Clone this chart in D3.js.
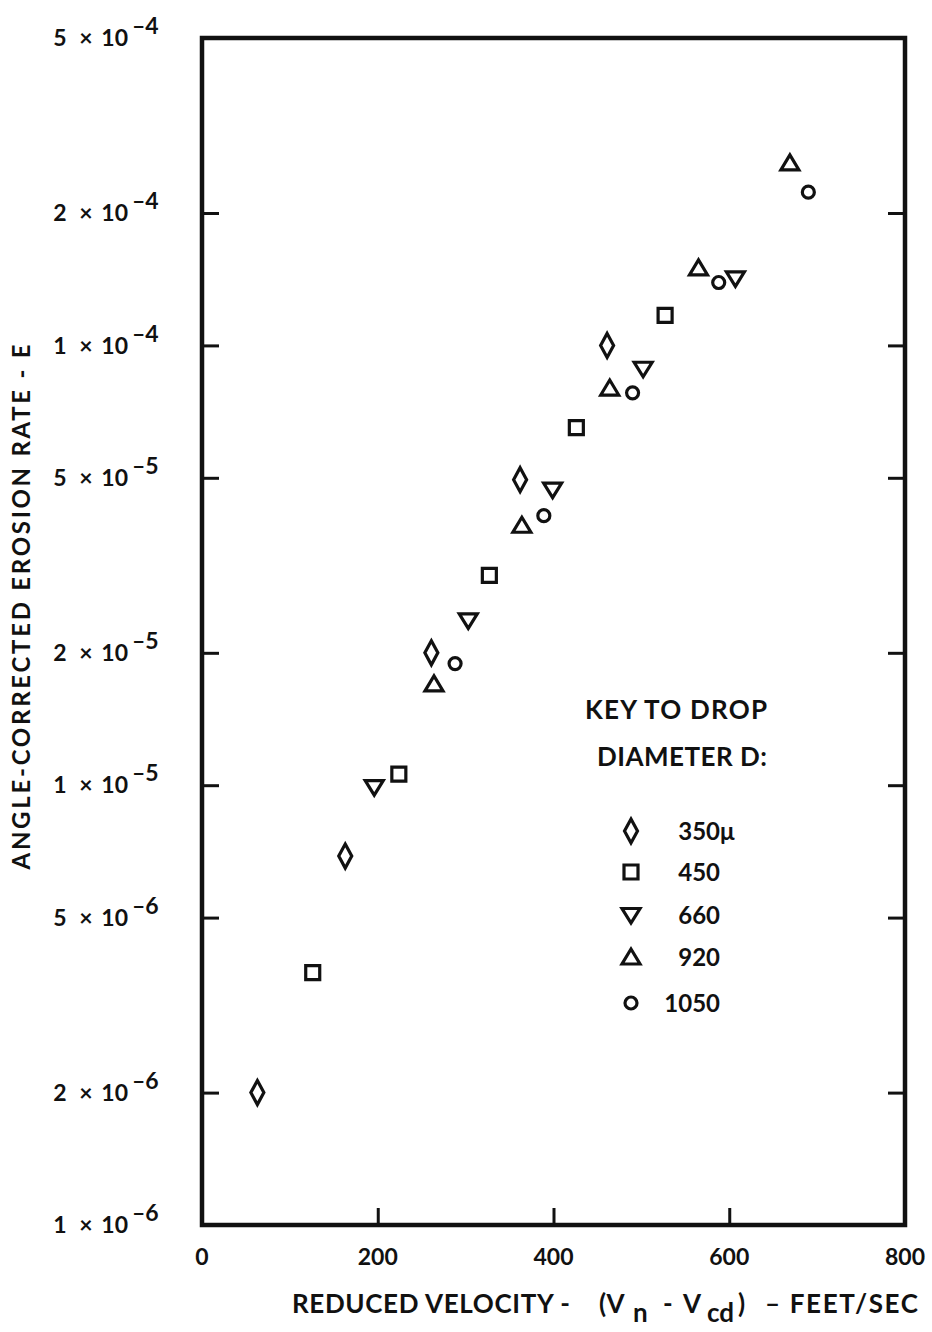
<!DOCTYPE html>
<html><head><meta charset="utf-8">
<script src="https://cdn.jsdelivr.net/npm/d3@7"></script>
<style>
  body { margin: 0; background: #fff; }
  text { font-family: "Lato", "DejaVu Sans", sans-serif; fill: #111; font-weight: 700; }
  .axis .domain { stroke: none; }
  .axis line { stroke: #111; stroke-width: 3px; }
</style>
</head><body>
<svg id="chart" width="932" height="1332"></svg>
<script>
  // ---- data
  const diameters = ["350", "450", "660", "920", "1050"];
  const shapeNames = ["diamond", "square", "triDown", "triUp", "circle"];

  const vel350 = [63, 163, 261, 362, 461];
  const rate350 = [2.0e-6, 6.9e-6, 2.0e-5, 4.95e-5, 1.0e-4];
  const vel450 = [126, 224, 327, 426, 527];
  const rate450 = [3.75e-6, 1.06e-5, 3.0e-5, 6.5e-5, 1.17e-4];
  const vel660 = [196, 303, 399, 502, 607];
  const rate660 = [9.9e-6, 2.37e-5, 4.7e-5, 8.85e-5, 1.42e-4];
  const vel920 = [264, 364, 464, 565, 669];
  const rate920 = [1.7e-5, 3.9e-5, 8.0e-5, 1.5e-4, 2.6e-4];
  const vel1050 = [288, 389, 490, 588, 690];
  const rate1050 = [1.89e-5, 4.1e-5, 7.8e-5, 1.39e-4, 2.23e-4];

  const xTicks = [0, 200, 400, 600, 800];
  const yTicks = [1e-6, 2e-6, 5e-6, 1e-5, 2e-5, 5e-5, 1e-4, 2e-4, 5e-4];

  const series = [
    {vel: vel350, rate: rate350},
    {vel: vel450, rate: rate450},
    {vel: vel660, rate: rate660},
    {vel: vel920, rate: rate920},
    {vel: vel1050, rate: rate1050}
  ];

  const svg = d3.select("svg#chart");

  const x = d3.scaleLinear().domain([0, 800]).range([202, 905]);
  const y = d3.scaleLog().domain([1e-6, 5e-4]).range([1225, 38]);

  // marker shapes, centred on 0,0
  const shapePath = {
    diamond: "M0,-12 L6.5,0 L0,12 L-6.5,0 Z",
    square: "M-7,-7 L7,-7 L7,7 L-7,7 Z",
    triDown: "M-9,-6.5 L9,-6.5 L0,8 Z",
    triUp: "M-9,7 L9,7 L0,-8 Z",
    circle: "M6,0 A6,6 0 1,1 -6,0 A6,6 0 1,1 6,0 Z"
  };

  // ---- tick marks (inward) on left, right, bottom
  const inner = yTicks.slice(1, -1);
  svg.append("g").attr("class", "axis")
     .attr("transform", "translate(" + x(0) + ",0)")
     .call(d3.axisLeft(y).tickValues(inner).tickSize(-17).tickFormat(""));
  svg.append("g").attr("class", "axis")
     .attr("transform", "translate(" + x(800) + ",0)")
     .call(d3.axisRight(y).tickValues(inner).tickSize(-17).tickFormat(""));
  svg.append("g").attr("class", "axis")
     .attr("transform", "translate(0," + y(1e-6) + ")")
     .call(d3.axisBottom(x).tickValues(xTicks.slice(1, -1)).tickSize(-17).tickFormat(""));

  // frame
  svg.append("rect")
     .attr("x", x(0)).attr("y", y(5e-4))
     .attr("width", x(800) - x(0)).attr("height", y(1e-6) - y(5e-4))
     .attr("fill", "none").attr("stroke", "#111").attr("stroke-width", 4.5);

  // ---- y tick labels  "m × 10^-e", built from pieces
  yTicks.forEach(t => {
    const ex = Math.floor(Math.log10(t) + 1e-9);
    const m = Math.round(t / Math.pow(10, ex));
    const g = svg.append("g").attr("transform", "translate(0," + y(t) + ")");
    g.append("text").attr("x", 60).attr("dy", "0.36em")
     .attr("text-anchor", "middle").attr("font-size", 23).text(m);
    g.append("text").attr("x", 86).attr("dy", "0.36em")
     .attr("text-anchor", "middle").attr("font-size", 23).text("\u00d7");
    g.append("text").attr("x", 128).attr("dy", "0.36em")
     .attr("text-anchor", "end").attr("font-size", 23).text("10");
    g.append("text").attr("x", 132).attr("y", -12).attr("dy", "0.36em")
     .attr("font-size", 23).text("\u2013" + (-ex));
  });

  // ---- x tick labels
  svg.selectAll("text.xt").data(xTicks).enter().append("text")
     .attr("class", "xt")
     .attr("x", d => x(d)).attr("y", 1257).attr("dy", "0.36em")
     .attr("text-anchor", "middle").attr("font-size", 23)
     .text(d => d);

  // ---- x axis title, in pieces so the gaps follow the original
  const titleBase = 1313;
  const titleParts = [
    {t: "REDUCED VELOCITY -", x: 292, dy: 0, len: 278},
    {t: "(V", x: 599, dy: 0},
    {t: "n", x: 633, dy: 9},
    {t: "-", x: 663, dy: 0},
    {t: "V", x: 683, dy: 0},
    {t: "cd", x: 707, dy: 9},
    {t: ")", x: 738, dy: 0},
    {t: "\u2013  FEET/SEC", x: 765, dy: 0, len: 153}
  ];
  titleParts.forEach(p => {
    const tx = svg.append("text").attr("x", p.x).attr("y", titleBase + p.dy)
       .attr("font-size", 26).text(p.t);
    if (p.len) tx.attr("textLength", p.len).attr("lengthAdjust", "spacing");
  });

  svg.append("text")
     .attr("transform", "translate(30,607) rotate(-90)")
     .attr("text-anchor", "middle").attr("font-size", 24)
     .attr("textLength", 525).attr("lengthAdjust", "spacing")
     .text("ANGLE-CORRECTED EROSION RATE - E");

  // ---- data points
  series.forEach((s, i) => {
    svg.append("g").selectAll("path")
       .data(s.vel.map((v, j) => [v, s.rate[j]]))
       .enter().append("path")
       .attr("d", shapePath[shapeNames[i]])
       .attr("transform", d => "translate(" + x(d[0]) + "," + y(d[1]) + ")")
       .attr("fill", "none").attr("stroke", "#111").attr("stroke-width", 3.2);
  });

  // ---- legend
  svg.append("text").attr("x", 585).attr("y", 710).attr("dy", "0.36em")
     .attr("font-size", 26).attr("textLength", 182).attr("lengthAdjust", "spacing")
     .text("KEY TO DROP");
  svg.append("text").attr("x", 597).attr("y", 757).attr("dy", "0.36em")
     .attr("font-size", 26).attr("textLength", 170).attr("lengthAdjust", "spacing")
     .text("DIAMETER  D:");

  const legendY = [831, 872, 915, 957, 1003];
  diameters.forEach((d, i) => {
    svg.append("path")
       .attr("d", shapePath[shapeNames[i]])
       .attr("transform", "translate(631," + legendY[i] + ")")
       .attr("fill", "none").attr("stroke", "#111").attr("stroke-width", 3.2);
    svg.append("text").attr("x", 720).attr("y", legendY[i]).attr("dy", "0.36em")
       .attr("text-anchor", "end").attr("font-size", 24).text(d);
    if (i === 0) {
      svg.append("text").attr("x", 720).attr("y", legendY[i]).attr("dy", "0.36em")
         .attr("font-size", 24).text("\u03bc");
    }
  });
</script>
</body></html>
